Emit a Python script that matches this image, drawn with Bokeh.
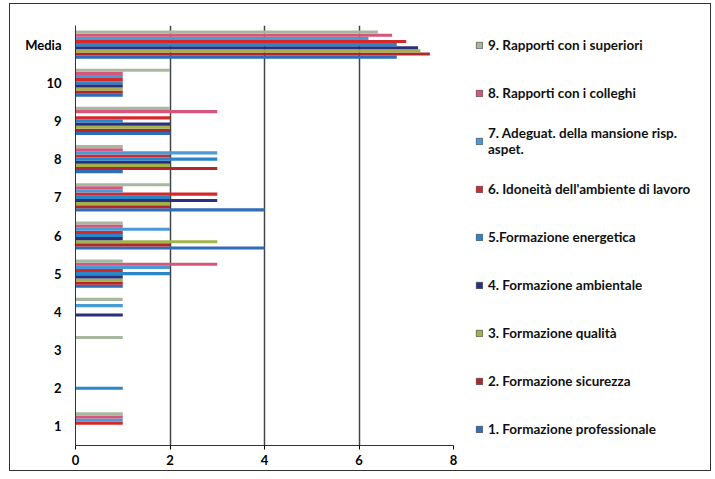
from bokeh.plotting import figure
from bokeh.layouts import row
from bokeh.models import FactorRange, Legend, LegendItem, ColumnDataSource, FixedTicker, Range1d
from bokeh.transform import dodge
from bokeh.embed import file_html
from bokeh.resources import INLINE

cats = ["1", "2", "3", "4", "5", "6", "7", "8", "9", "10", "Media"]

series_names = [
    "1. Formazione professionale",
    "2. Formazione sicurezza",
    "3. Formazione qualità",
    "4. Formazione ambientale",
    "5.Formazione energetica",
    "6. Idoneità dell'ambiente di lavoro",
    "7. Adeguat. della mansione risp.\naspet.",
    "8. Rapporti con i colleghi",
    "9. Rapporti con i superiori",
]

s1 = [0, 0, 0, 0, 1, 4, 4, 1, 2, 1, 6.8]
s2 = [0, 0, 0, 0, 1, 2, 2, 3, 2, 1, 7.5]
s3 = [0, 0, 0, 0, 1, 3, 2, 2, 2, 1, 7.3]
s4 = [0, 0, 0, 1, 1, 1, 3, 2, 2, 1, 7.25]
s5 = [0, 1, 0, 0, 2, 1, 2, 3, 1, 1, 6.8]
s6 = [1, 0, 0, 0, 1, 1, 3, 2, 2, 1, 7.0]
s7 = [1, 0, 0, 1, 2, 2, 1, 3, 0, 1, 6.2]
s8 = [1, 0, 0, 0, 3, 1, 1, 1, 3, 1, 6.7]
s9 = [1, 0, 1, 1, 1, 1, 2, 1, 2, 2, 6.4]
all_series = [s1, s2, s3, s4, s5, s6, s7, s8, s9]

colors = ["#2f6db5", "#b3262e", "#a3b24a", "#2b2f80", "#2b86c8",
          "#d4282a", "#4a9ad8", "#d6557a", "#a8b8a0"]

x_ticks = [0, 2, 4, 6, 8]

p = figure(width=462, height=466, output_backend="svg", toolbar_location=None,
           y_range=FactorRange(factors=cats, range_padding=0),
           x_range=(0, 8), min_border_left=65, min_border_right=19,
           min_border_top=21, min_border_bottom=25)
p.outline_line_color = None
p.background_fill_color = "white"

src = ColumnDataSource(dict(cat=cats, **{f"s{i+1}": v for i, v in enumerate(all_series)}))
bh = 0.082
for i in range(9):
    off = -4 * bh + i * bh
    p.hbar(y=dodge("cat", off, range=p.y_range), right=f"s{i+1}", left=0,
           height=bh, source=src, fill_color=colors[i], line_color=None)

p.xaxis.ticker = FixedTicker(ticks=x_ticks)
p.xaxis.minor_tick_line_color = None
p.xaxis.major_tick_in = 0
p.xaxis.major_tick_out = 4
p.xaxis.axis_line_color = "#333333"
p.xaxis.major_label_text_font = "Lato"
p.xaxis.major_label_text_font_style = "bold"
p.xaxis.major_label_text_font_size = "13px"
p.xaxis.major_label_text_color = "black"

p.yaxis.major_tick_line_color = None
p.yaxis.axis_line_color = "#333333"
p.yaxis.major_label_text_font = "Lato"
p.yaxis.major_label_text_font_style = "bold"
p.yaxis.major_label_text_font_size = "13px"
p.yaxis.major_label_text_color = "black"
p.yaxis.major_label_standoff = 8

p.ygrid.grid_line_color = None
p.xgrid.ticker = FixedTicker(ticks=x_ticks)
p.xgrid.grid_line_color = "#444444"
p.xgrid.grid_line_width = 1.5

# legend panel
q = figure(width=238, height=466, output_backend="svg", toolbar_location=None,
           x_range=Range1d(0, 1), y_range=Range1d(0, 1),
           min_border_left=0, min_border_right=0, min_border_top=0, min_border_bottom=0)
q.axis.visible = False
q.grid.visible = False
q.outline_line_color = None
leg_renderers = []
for i in range(9):
    r = q.hbar(y=[5], right=[6], left=5, height=0.1, fill_color=colors[i],
               line_color="#333333", line_width=0.6)
    leg_renderers.append(r)

items = [LegendItem(label=series_names[i], renderers=[leg_renderers[i]]) for i in range(8, -1, -1)]
legend = Legend(items=items, location=(3, -2), orientation="vertical")
legend.label_text_font = "Lato"
legend.label_text_font_style = "bold"
legend.label_text_font_size = "13.5px"
legend.label_text_color = "#111111"
legend.label_height = 36
legend.glyph_height = 8
legend.glyph_width = 8
legend.label_standoff = 5
legend.spacing = 12
legend.padding = 0
legend.margin = 0
legend.border_line_color = None
legend.background_fill_alpha = 0
q.add_layout(legend, "center")

layout = row(p, q, spacing=0)
layout.styles = {"margin-left": "9px", "margin-top": "3px",
                 "border": "1.5px solid #333333"}

open("out.html", "w").write(file_html(layout, INLINE))
